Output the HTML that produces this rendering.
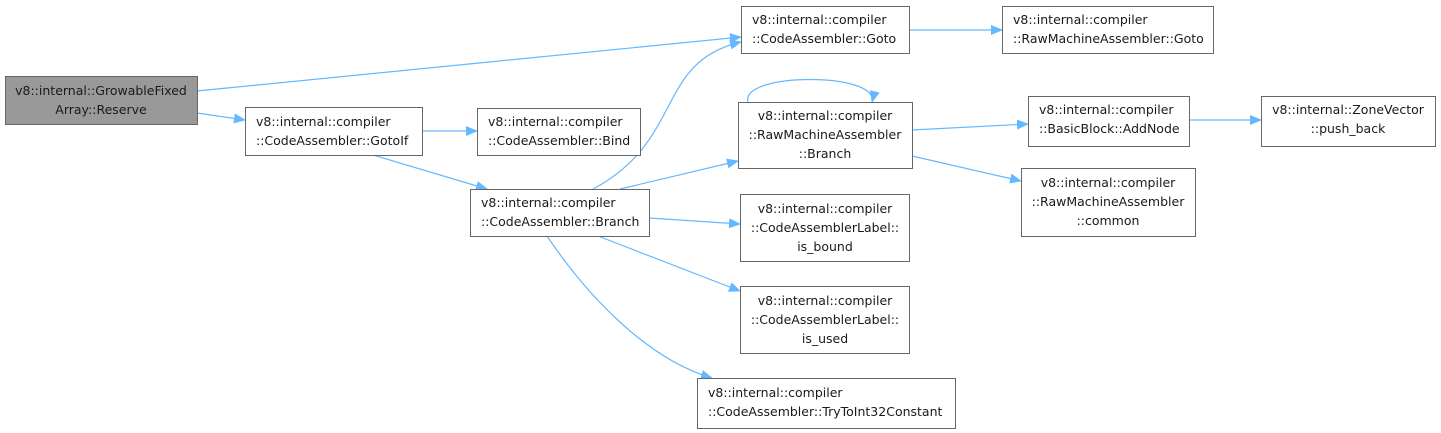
<!DOCTYPE html>
<html><head><meta charset="utf-8"><style>
html,body{margin:0;padding:0;background:#fff;width:1441px;height:433px;overflow:hidden}
svg text{font-family:"DejaVu Sans","Liberation Sans",sans-serif;font-size:12.5px;fill:#1a1a1a}
</style></head><body>
<svg width="1441" height="433" viewBox="0 0 1441 433" xmlns="http://www.w3.org/2000/svg">
<defs><marker id="a" markerWidth="12" markerHeight="10" refX="11" refY="5" orient="auto" markerUnits="userSpaceOnUse"><polygon points="0,0 12,5 0,10" fill="#63b8ff"/></marker></defs>
<g fill="none" stroke="#63b8ff" stroke-width="1.2" marker-end="url(#a)">
<path d="M197,91 L741,37"/>
<path d="M197,113 L245,120"/>
<path d="M422,131 L477,131"/>
<path d="M373,155 L487,189"/>
<path d="M593,189 C685,140 655,62 741,42"/>
<path d="M620,189 L738,161"/>
<path d="M649,218 L740,224"/>
<path d="M598,236 L740,291"/>
<path d="M547,236 C590,300 650,360 712,378"/>
<path d="M909,30 L1002,30"/>
<path d="M748,102 C740,72 880,72 872,102"/>
<path d="M912,130 L1028,124"/>
<path d="M912,156 L1021,181"/>
<path d="M1189,120 L1261,120"/>
</g>
<g stroke="#666" stroke-width="1" fill="#fff">
<rect x="5.5" y="76.5" width="192" height="48" fill="#999"/>
<rect x="245.5" y="107.5" width="177" height="48"/>
<rect x="477.5" y="108.5" width="163" height="47"/>
<rect x="470.5" y="189.5" width="179" height="47"/>
<rect x="741.5" y="6.5" width="168" height="47"/>
<rect x="1002.5" y="6.5" width="211" height="47"/>
<rect x="738.5" y="102.5" width="174" height="66"/>
<rect x="740.5" y="194.5" width="169" height="67"/>
<rect x="740.5" y="286.5" width="169" height="67"/>
<rect x="697.5" y="378.5" width="258" height="50"/>
<rect x="1028.5" y="96.5" width="161" height="50"/>
<rect x="1021.5" y="168.5" width="174" height="68"/>
<rect x="1261.5" y="96.5" width="174" height="50"/>
</g>
<text x="101" y="95" text-anchor="middle">v8::internal::GrowableFixed</text>
<text x="101" y="114" text-anchor="middle">Array::Reserve</text>
<text x="256" y="126">v8::internal::compiler</text><text x="256" y="145">::CodeAssembler::GotoIf</text>
<text x="488" y="126">v8::internal::compiler</text><text x="488" y="145">::CodeAssembler::Bind</text>
<text x="481" y="207">v8::internal::compiler</text><text x="481" y="226">::CodeAssembler::Branch</text>
<text x="752" y="24">v8::internal::compiler</text><text x="752" y="43">::CodeAssembler::Goto</text>
<text x="1013" y="24">v8::internal::compiler</text><text x="1013" y="43">::RawMachineAssembler::Goto</text>
<text x="825" y="120" text-anchor="middle">v8::internal::compiler</text><text x="825" y="139" text-anchor="middle">::RawMachineAssembler</text><text x="825" y="158" text-anchor="middle">::Branch</text>
<text x="825" y="213" text-anchor="middle">v8::internal::compiler</text><text x="825" y="232" text-anchor="middle">::CodeAssemblerLabel::</text><text x="825" y="251" text-anchor="middle">is_bound</text>
<text x="825" y="305" text-anchor="middle">v8::internal::compiler</text><text x="825" y="324" text-anchor="middle">::CodeAssemblerLabel::</text><text x="825" y="343" text-anchor="middle">is_used</text>
<text x="708" y="397">v8::internal::compiler</text><text x="708" y="416">::CodeAssembler::TryToInt32Constant</text>
<text x="1039" y="114">v8::internal::compiler</text><text x="1039" y="133">::BasicBlock::AddNode</text>
<text x="1108" y="187" text-anchor="middle">v8::internal::compiler</text><text x="1108" y="206" text-anchor="middle">::RawMachineAssembler</text><text x="1108" y="225" text-anchor="middle">::common</text>
<text x="1348" y="114" text-anchor="middle">v8::internal::ZoneVector</text><text x="1348" y="133" text-anchor="middle">::push_back</text>
</svg>
</body></html>
